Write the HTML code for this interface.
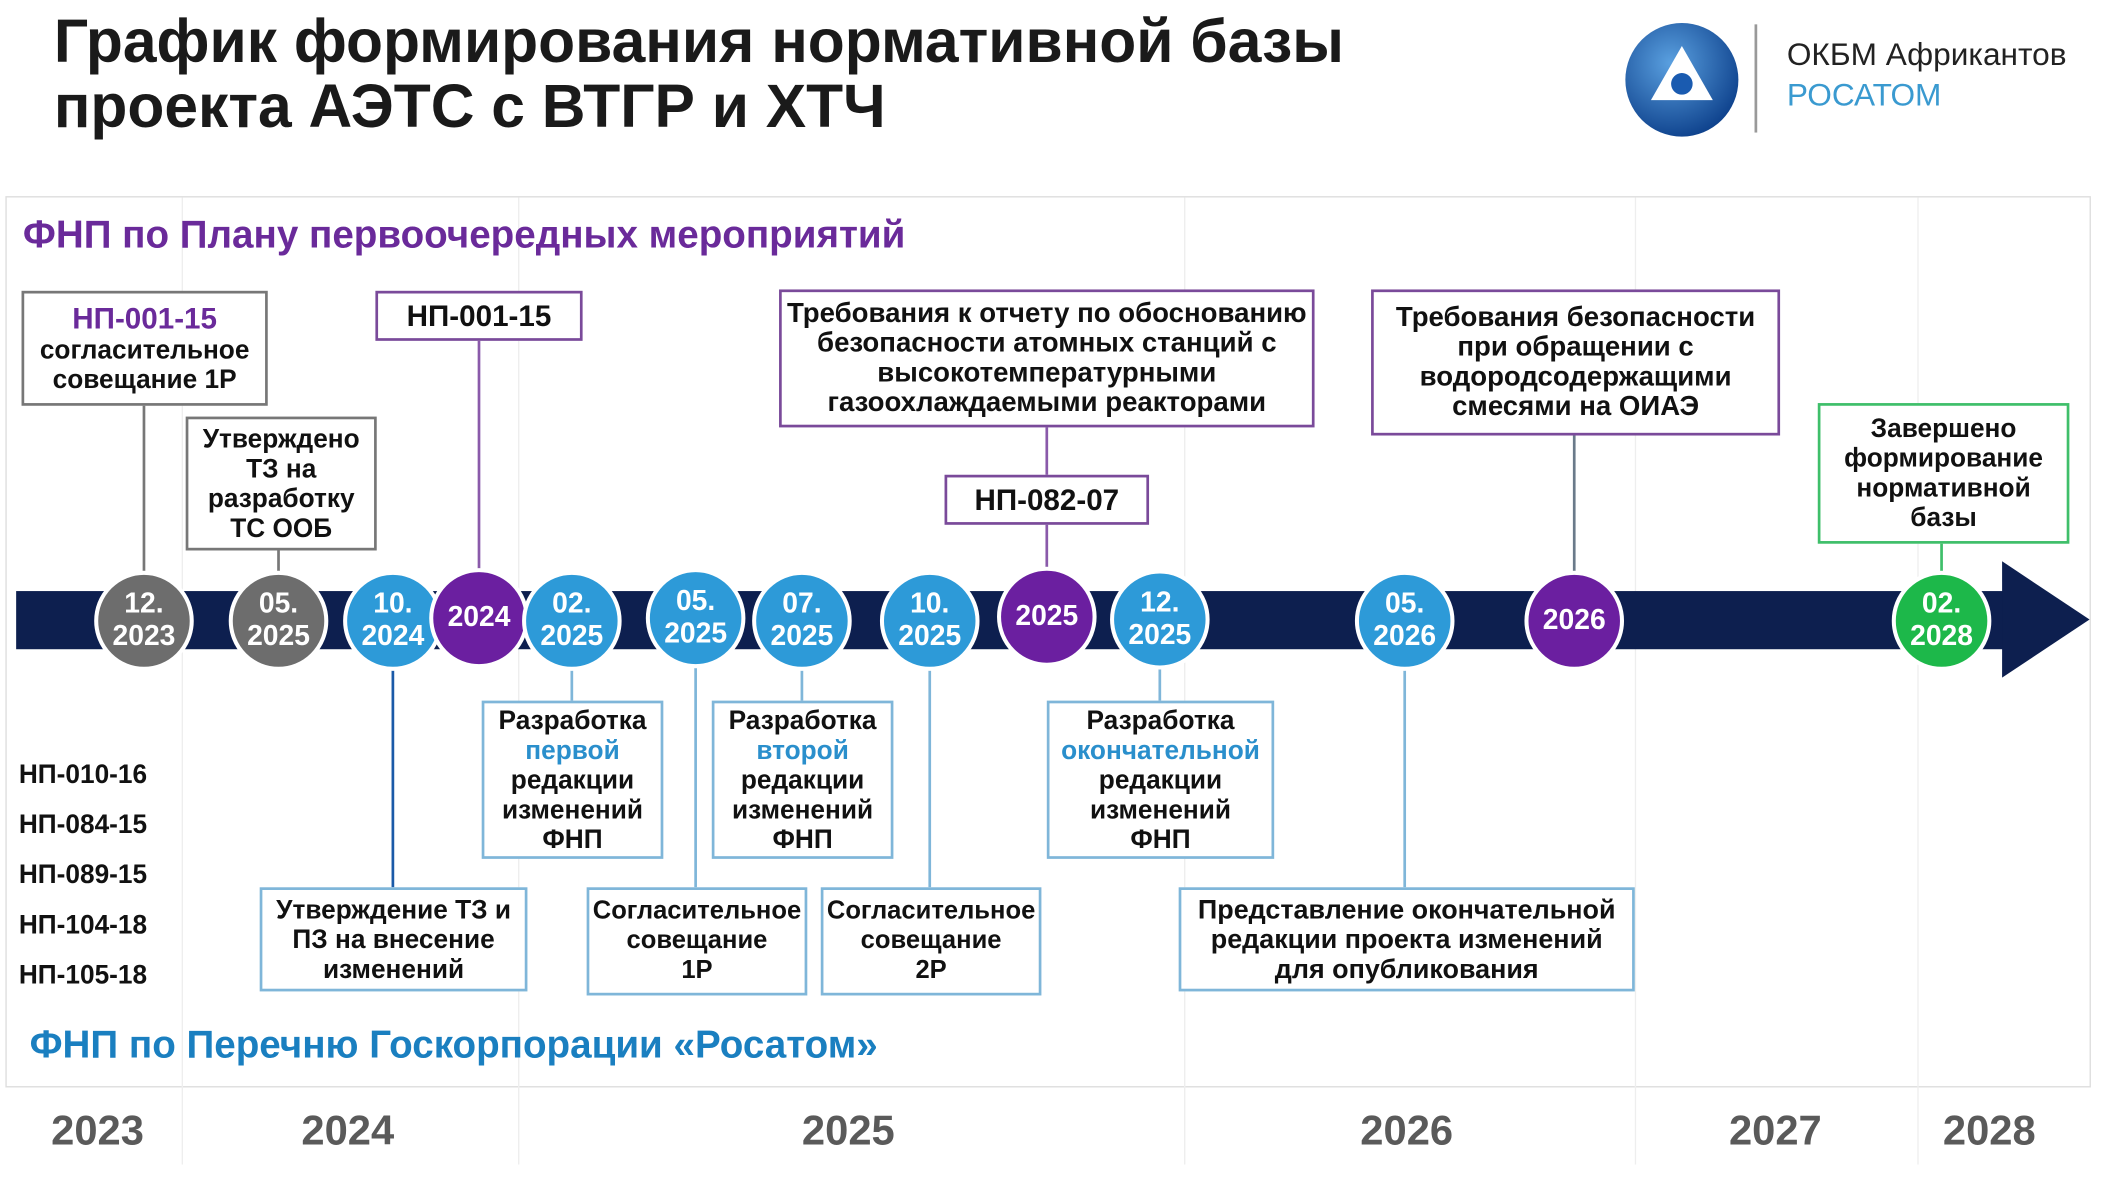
<!DOCTYPE html>
<html><head><meta charset="utf-8">
<style>
html,body{margin:0;padding:0;background:#fff;}
body{width:2110px;height:1186px;overflow:hidden;position:relative;}
#c{position:absolute;left:0;top:0;width:1560px;height:877px;transform:scale(1.3455,1.35256);transform-origin:0 0;font-family:"Liberation Sans","DejaVu Sans",sans-serif;font-weight:bold;}
.a{position:absolute;}
.box{position:absolute;box-sizing:border-box;background:#fff;display:flex;flex-direction:column;align-items:center;justify-content:center;text-align:center;color:#111;font-size:19.5px;line-height:22px;}
.pb{border:2px solid #7a4a9a;}
.gb{border:2px solid #777;}
.lb{border:2px solid #7fb6d9;}
.grb{border:2px solid #3fbf6a;}
.v{position:absolute;width:2px;}
.circ{position:absolute;width:74px;height:74px;border-radius:50%;box-sizing:border-box;border:3px solid #fff;color:#fff;display:flex;flex-direction:column;align-items:center;justify-content:center;font-size:21px;line-height:24px;text-align:center;}
.gr{background:#6d6d6d}.bl{background:#2d9ad8}.pu{background:#6b1fa0}.gn{background:#1db84a}
.yr{position:absolute;top:818px;font-size:31px;color:#5a5a5a;}
.np{position:absolute;left:14px;font-size:19.5px;color:#111;}
.hl{color:#2a8fcc;}
</style></head><body><div id="c">
<div class="a" style="left:40px;top:7px;font-size:45px;line-height:48px;color:#1a1a1a;">График формирования нормативной базы<br>проекта АЭТС с ВТГР и ХТЧ</div>
<svg class="a" style="left:1205px;top:14px" width="92" height="90" viewBox="0 0 92 90">
<defs><radialGradient id="g" cx="40%" cy="35%" r="70%"><stop offset="0" stop-color="#5aa0e0"/><stop offset="1" stop-color="#0c3f8a"/></radialGradient></defs>
<circle cx="45" cy="45" r="42" fill="url(#g)"/>
<path d="M45 20 L68 60 L22 60 Z" fill="#fff"/><circle cx="45" cy="48" r="8" fill="#1a5bb0"/>
</svg>
<div class="a" style="left:1304px;top:18px;width:2px;height:80px;background:#999"></div>
<div class="a" style="left:1328px;top:27px;font-size:23.5px;font-weight:normal;color:#222;">ОКБМ Африкантов</div>
<div class="a" style="left:1328px;top:57px;font-size:23.5px;font-weight:normal;color:#3a9ad0;">РОСАТОМ</div>

<div class="a" style="left:4px;top:145px;width:1548px;height:657px;border:1px solid #ddd;"></div>
<div class="a" style="left:135px;top:146px;width:1px;height:715px;background:#eee"></div>
<div class="a" style="left:385px;top:146px;width:1px;height:715px;background:#eee"></div>
<div class="a" style="left:880px;top:146px;width:1px;height:715px;background:#eee"></div>
<div class="a" style="left:1215px;top:146px;width:1px;height:715px;background:#eee"></div>
<div class="a" style="left:1425px;top:146px;width:1px;height:715px;background:#eee"></div>

<div class="a" style="left:17px;top:158px;font-size:28.7px;color:#6a2a9a;">ФНП по Плану первоочередных мероприятий</div>
<div class="a" style="left:22px;top:757px;font-size:28.7px;color:#1a7fc0;">ФНП по Перечню Госкорпорации «Росатом»</div>

<div class="yr" style="left:38px">2023</div><div class="yr" style="left:224px">2024</div><div class="yr" style="left:596px">2025</div><div class="yr" style="left:1011px">2026</div><div class="yr" style="left:1285px">2027</div><div class="yr" style="left:1444px">2028</div>

<div class="np" style="top:562px">НП-010-16</div><div class="np" style="top:599px">НП-084-15</div><div class="np" style="top:636px">НП-089-15</div><div class="np" style="top:673px">НП-104-18</div><div class="np" style="top:710px">НП-105-18</div>

<div class="v" style="left:106px;top:299px;height:125px;background:#777"></div>
<div class="v" style="left:206px;top:406px;height:18px;background:#777"></div>
<div class="v" style="left:355px;top:251px;height:172px;background:#8a5aaa"></div>
<div class="v" style="left:777px;top:315px;height:108px;background:#8a5aaa"></div>
<div class="v" style="left:1169px;top:321px;height:102px;background:#6a7a8a"></div>
<div class="v" style="left:1442px;top:401px;height:22px;background:#3fbf6a"></div>
<div class="v" style="left:291px;top:494px;height:162px;background:#1a5aa8"></div>
<div class="v" style="left:424px;top:494px;height:24px;background:#7fb6d9"></div>
<div class="v" style="left:516px;top:494px;height:162px;background:#7fb6d9"></div>
<div class="v" style="left:595px;top:494px;height:24px;background:#7fb6d9"></div>
<div class="v" style="left:690px;top:494px;height:162px;background:#7fb6d9"></div>
<div class="v" style="left:861px;top:494px;height:24px;background:#7fb6d9"></div>
<div class="v" style="left:1043px;top:494px;height:162px;background:#7fb6d9"></div>

<svg class="a" style="left:0;top:410px" width="1560" height="95"><rect x="12" y="27" width="1480" height="43" fill="#0d1f4f"/><polygon points="1488,5 1553,48 1488,91" fill="#0d1f4f"/></svg>

<div class="circ gr" style="left:70px;top:422px">12.<br>2023</div>
<div class="circ gr" style="left:170px;top:422px">05.<br>2025</div>
<div class="circ bl" style="left:255px;top:422px">10.<br>2024</div>
<div class="circ pu" style="left:319px;top:420px">2024</div>
<div class="circ bl" style="left:388px;top:422px">02.<br>2025</div>
<div class="circ bl" style="left:480px;top:420px">05.<br>2025</div>
<div class="circ bl" style="left:559px;top:422px">07.<br>2025</div>
<div class="circ bl" style="left:654px;top:422px">10.<br>2025</div>
<div class="circ pu" style="left:741px;top:419px">2025</div>
<div class="circ bl" style="left:825px;top:421px">12.<br>2025</div>
<div class="circ bl" style="left:1007px;top:422px">05.<br>2026</div>
<div class="circ pu" style="left:1133px;top:422px">2026</div>
<div class="circ gn" style="left:1406px;top:422px">02.<br>2028</div>

<div class="box gb" style="left:16px;top:215px;width:183px;height:85px;"><span style="color:#6a2a9a;font-size:22px;line-height:25px">НП-001-15</span>согласительное<br>совещание 1Р</div>
<div class="box gb" style="left:138px;top:308px;width:142px;height:99px;">Утверждено<br>ТЗ на<br>разработку<br>ТС ООБ</div>
<div class="box pb" style="left:279px;top:215px;width:154px;height:37px;font-size:22px;">НП-001-15</div>
<div class="box pb" style="left:579px;top:214px;width:398px;height:102px;font-size:20.5px;">Требования к отчету по обоснованию<br>безопасности атомных станций с<br>высокотемпературными<br>газоохлаждаемыми реакторами</div>
<div class="box pb" style="left:702px;top:351px;width:152px;height:37px;font-size:22px;">НП-082-07</div>
<div class="box pb" style="left:1019px;top:214px;width:304px;height:108px;font-size:20.5px;">Требования безопасности<br>при обращении с<br>водородсодержащими<br>смесями на ОИАЭ</div>
<div class="box grb" style="left:1351px;top:298px;width:187px;height:104px;">Завершено<br>формирование<br>нормативной<br>базы</div>

<div class="box lb" style="left:358px;top:518px;width:135px;height:117px;">Разработка<br><span class="hl">первой</span>редакции<br>изменений<br>ФНП</div>
<div class="box lb" style="left:529px;top:518px;width:135px;height:117px;">Разработка<br><span class="hl">второй</span>редакции<br>изменений<br>ФНП</div>
<div class="box lb" style="left:778px;top:518px;width:169px;height:117px;">Разработка<br><span class="hl">окончательной</span>редакции<br>изменений<br>ФНП</div>
<div class="box lb" style="left:193px;top:656px;width:199px;height:77px;">Утверждение ТЗ и<br>ПЗ на внесение<br>изменений</div>
<div class="box lb" style="left:436px;top:656px;width:164px;height:80px;font-size:19px;">Согласительное<br>совещание<br>1Р</div>
<div class="box lb" style="left:610px;top:656px;width:164px;height:80px;font-size:19px;">Согласительное<br>совещание<br>2Р</div>
<div class="box lb" style="left:876px;top:656px;width:339px;height:77px;font-size:20px;">Представление окончательной<br>редакции проекта изменений<br>для опубликования</div>
</div></body></html>
